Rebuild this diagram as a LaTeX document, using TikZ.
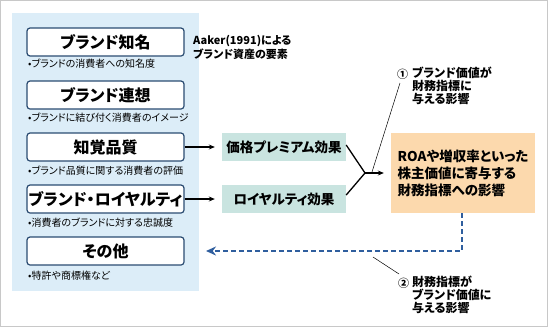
\documentclass[tikz,border=0pt]{standalone}
\usepackage{fontspec}
\newfontfamily\jp{Noto Sans CJK JP}[RawFeature=+palt]
\newfontfamily\jpfull{Noto Sans CJK JP}
\usetikzlibrary{arrows.meta}
\definecolor{panelblue}{HTML}{DCEDF8}
\definecolor{boxline}{HTML}{2B4C72}
\definecolor{teal}{HTML}{C9E4E0}
\definecolor{orangebox}{HTML}{FCD9AD}
\definecolor{dashblue}{HTML}{2F5E9E}
\definecolor{frame}{HTML}{C8C8C8}
\tikzset{
  elembox/.style={draw=boxline, line width=1.2pt, fill=white, rounded corners=3pt,
    minimum width=157pt, minimum height=28pt, inner sep=0pt,
    font=\jp\bfseries\fontsize{16}{18}\selectfont},
  caption/.style={anchor=west, inner sep=0pt, font=\jp\fontsize{10}{12}\selectfont},
  effbox/.style={fill=teal, minimum width=124pt, minimum height=28pt, inner sep=0pt,
    font=\jp\bfseries\fontsize{13.5}{15}\selectfont},
  lbl/.style={anchor=west, inner sep=0pt, font=\jp\bfseries\fontsize{12}{13}\selectfont},
  solidarrow/.style={-{Stealth[length=6pt,width=5pt]}, line width=1.3pt, shorten >=7pt},
  leader/.style={line width=0.5pt},
}
\begin{document}
\begin{tikzpicture}[x=1pt,y=-1pt]
\useasboundingbox (0,0) rectangle (548,327);
\draw[frame, line width=1pt] (0.5,0.5) rectangle (547.5,326.5);
\fill[panelblue] (12,13) rectangle (199,291);

\node[elembox] (b1) at (105.5,42) {ブランド知名};
\node[elembox] (b2) at (105.5,95) {ブランド連想};
\node[elembox] (b3) at (105.5,147) {知覚品質};
\node[elembox] (b4) at (105.5,199) {ブランド・ロイヤルティ};
\node[elembox] (b5) at (105.5,251) {その他};

\node[caption] (c1) at (28,64) {•ブランドの消費者への知名度};
\node[caption] (c2) at (28,118) {•ブランドに結び付く消費者のイメージ};
\node[caption] (c3) at (28,171) {•ブランド品質に関する消費者の評価};
\node[caption] (c4) at (28,223) {•消費者のブランドに対する忠誠度};
\node[caption] (c5) at (28,276) {•特許や商標権など};

\node[anchor=north west, inner sep=0pt, align=left,
  font=\jp\bfseries\fontsize{11}{14}\selectfont] (aaker) at (193,35) {Aaker(1991)による\\ブランド資産の要素};

\node[effbox] (price) at (284,147) {価格プレミアム効果};
\node[effbox] (loyal) at (284,199) {ロイヤルティ効果};

\node[fill=orangebox, minimum width=144pt, minimum height=80pt, inner sep=0pt,
  align=left, font=\jp\bfseries\fontsize{13.5}{17}\selectfont] (fin) at (463,173)
  {ROAや増収率といった\\株主価値に寄与する\\財務指標への影響};

\draw[solidarrow] (b3.east) -- (price.west);
\draw[solidarrow] (b4.east) -- (loyal.west);

\coordinate (j) at (365,173);
\draw[line width=1.3pt] ([yshift=2pt]price.east) -- (j);
\draw[line width=1.3pt] ([yshift=4pt]loyal.east) -- (j);
\draw[solidarrow] (j) -- (fin.west);

\draw[dashblue, line width=1.6pt, dash pattern=on 5pt off 3pt,
  -{Stealth[length=10pt,width=9pt]}]
  (fin.south -| 462,0) |- (b5.east -| 206,0) coordinate (dashend);

\node[lbl, font=\jpfull\bfseries\fontsize{11}{13}\selectfont] (n1) at (397,74) {①};
\node[lbl, align=left, anchor=north west] (t1) at (412,67) {ブランド価値が\\財務指標に\\与える影響};
\coordinate (l1a) at (400,83);
\coordinate (l1b) at (372,172);
\draw[leader] (l1a) -- (l1b);

\node[lbl, font=\jpfull\bfseries\fontsize{11}{13}\selectfont] (n2) at (398,283) {②};
\node[lbl, align=left, anchor=north west] (t2) at (412,276) {財務指標が\\ブランド価値に\\与える影響};
\coordinate (l2a) at (373,257);
\coordinate (l2b) at (399,274);
\draw[leader] (l2a) -- (l2b);
\end{tikzpicture}
\end{document}
